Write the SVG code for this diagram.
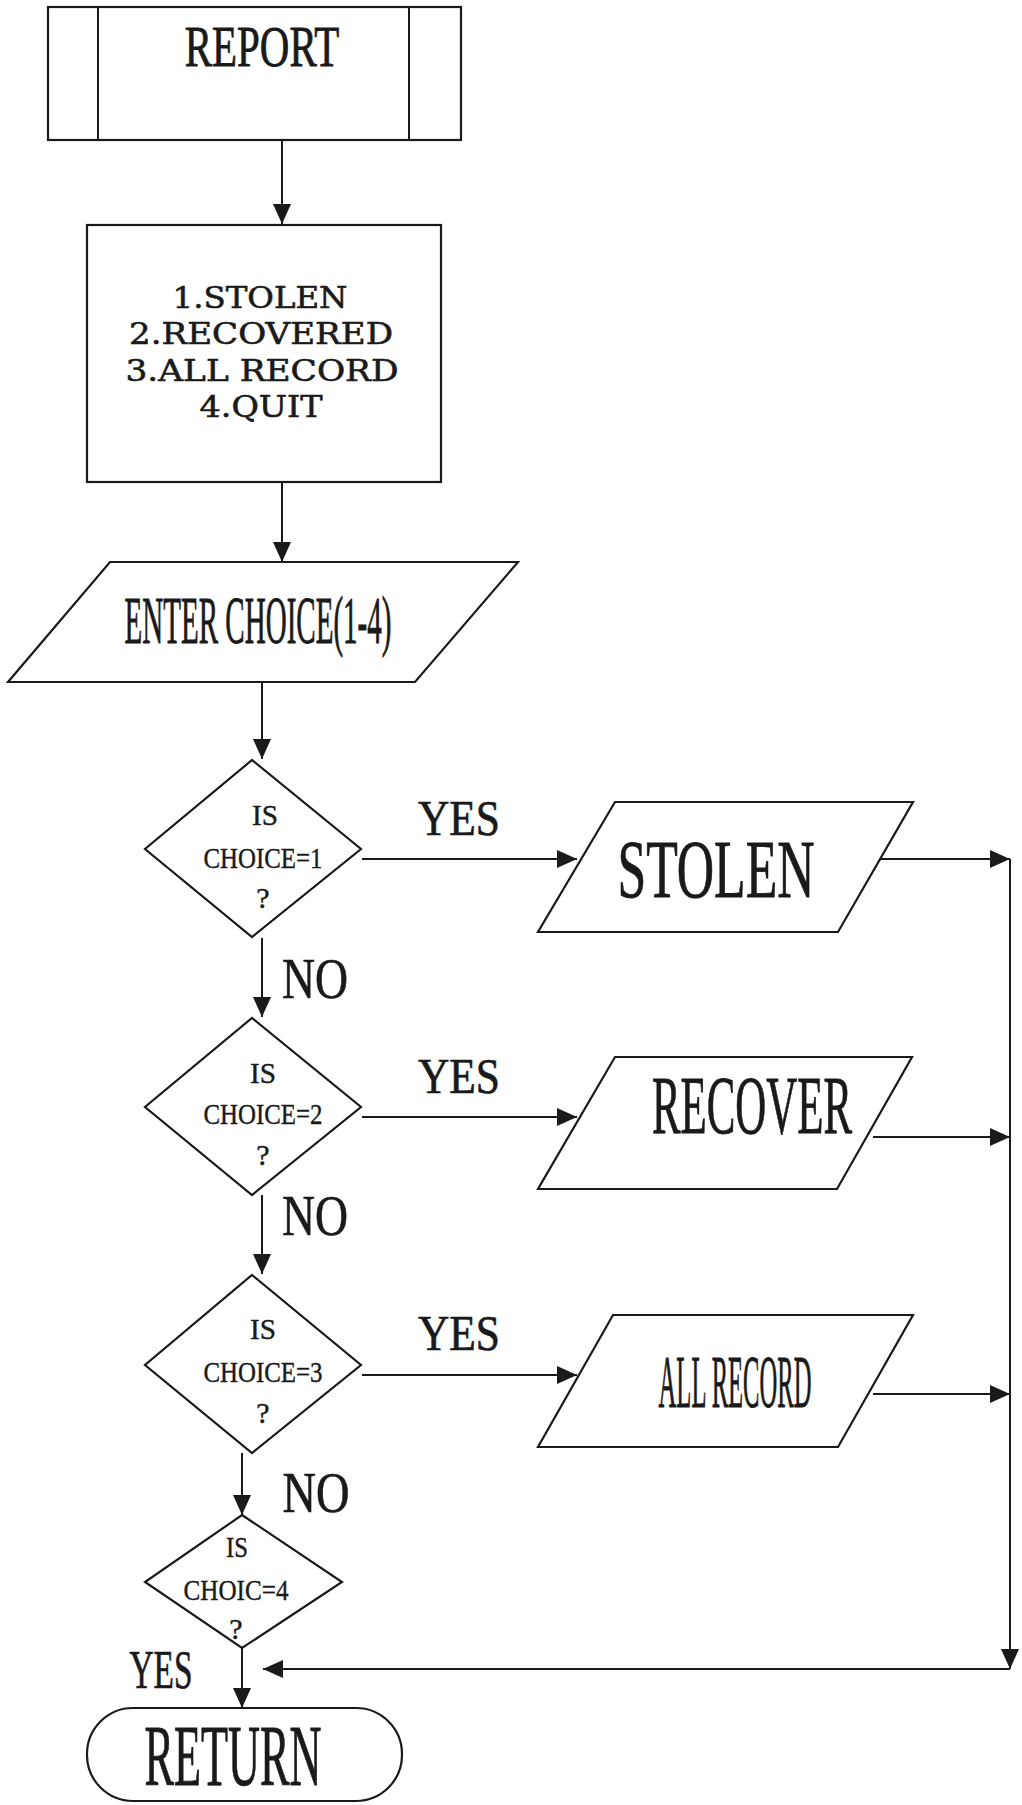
<svg xmlns="http://www.w3.org/2000/svg" width="1022" height="1805" viewBox="0 0 1022 1805">
  <defs>
    <marker id="arr" markerUnits="userSpaceOnUse" markerWidth="20" markerHeight="18" refX="20" refY="9" orient="auto">
      <path d="M0,0 L20,9 L0,18 z" fill="#1a1a1a"/>
    </marker>
    <style>
      .shape { fill: #ffffff; stroke: #1a1a1a; stroke-width: 2.2; }
      .conn { stroke: #1a1a1a; stroke-width: 2; fill: none; marker-end: url(#arr); }
      .line { stroke: #1a1a1a; stroke-width: 2; fill: none; }
      .t { font-family: "Liberation Serif", "Times New Roman", serif; fill: #1a1a1a; stroke: #1a1a1a; stroke-width: 0.7; text-anchor: middle; }
      .ns { vector-effect: non-scaling-stroke; }
      .m { font-family: "DejaVu Serif", "Liberation Serif", serif; fill: #1a1a1a; stroke: #1a1a1a; stroke-width: 0.6; text-anchor: middle; font-size: 30px; }
      .d { font-size: 30px; stroke-width: 0.4; }
      .lbl { font-size: 50px; }
    </style>
  </defs>
  <rect x="0" y="0" width="1022" height="1805" fill="#ffffff"/>

  <g id="connectors">
    <line class="conn" x1="282" y1="140" x2="282" y2="224"/>
    <line class="conn" x1="282" y1="482" x2="282" y2="562"/>
    <line class="conn" x1="262" y1="682" x2="262" y2="759"/>
    <line class="conn" x1="362" y1="859" x2="577" y2="859"/>
    <line class="conn" x1="873" y1="859" x2="1010" y2="859"/>
    <line class="conn" x1="262" y1="938" x2="262" y2="1017"/>
    <line class="conn" x1="362" y1="1117" x2="577" y2="1117"/>
    <line class="conn" x1="873" y1="1137" x2="1010" y2="1137"/>
    <line class="conn" x1="262" y1="1195" x2="262" y2="1274"/>
    <line class="conn" x1="362" y1="1375" x2="577" y2="1375"/>
    <line class="conn" x1="873" y1="1394" x2="1010" y2="1394"/>
    <line class="conn" x1="242" y1="1453" x2="242" y2="1515"/>
    <line class="conn" x1="1010" y1="859" x2="1010" y2="1669"/>
    <line class="conn" x1="1010" y1="1669" x2="263" y2="1669"/>
    <line class="conn" x1="242" y1="1648" x2="242" y2="1708"/>
  </g>

  <g id="report">
    <rect class="shape" x="48" y="7" width="413" height="133"/>
    <line class="line" x1="98" y1="7" x2="98" y2="140"/>
    <line class="line" x1="409" y1="7" x2="409" y2="140"/>
    <text class="t ns" transform="translate(262,66) scale(0.731,1)" font-size="56">REPORT</text>
  </g>

  <g id="menu">
    <rect class="shape" x="87" y="225" width="354" height="257"/>
    <text class="m" x="260" y="308" textLength="175" lengthAdjust="spacingAndGlyphs">1.STOLEN</text>
    <text class="m" x="261" y="344" textLength="264" lengthAdjust="spacingAndGlyphs">2.RECOVERED</text>
    <text class="m" x="262" y="381" textLength="273" lengthAdjust="spacingAndGlyphs">3.ALL RECORD</text>
    <text class="m" x="261" y="417" textLength="123" lengthAdjust="spacingAndGlyphs">4.QUIT</text>
  </g>

  <g id="enter-choice">
    <polygon class="shape" points="110,562 518,562 415,682 8,682"/>
    <text class="t ns" transform="translate(258,643) scale(0.427,1)" font-size="68">ENTER CHOICE(1-4)</text>
  </g>

  <g id="decision1">
    <polygon class="shape" points="252,760 361,849 252,937 145,849"/>
    <text class="t d" x="265" y="825" textLength="26" lengthAdjust="spacingAndGlyphs">IS</text>
    <text class="t d" x="263" y="868" textLength="119" lengthAdjust="spacingAndGlyphs">CHOICE=1</text>
    <text class="t d" x="263" y="908">?</text>
  </g>

  <g id="decision2">
    <polygon class="shape" points="252,1018 361,1107 252,1195 145,1107"/>
    <text class="t d" x="263" y="1083" textLength="26" lengthAdjust="spacingAndGlyphs">IS</text>
    <text class="t d" x="263" y="1124" textLength="119" lengthAdjust="spacingAndGlyphs">CHOICE=2</text>
    <text class="t d" x="263" y="1165">?</text>
  </g>

  <g id="decision3">
    <polygon class="shape" points="252,1275 361,1365 252,1453 145,1365"/>
    <text class="t d" x="263" y="1339" textLength="26" lengthAdjust="spacingAndGlyphs">IS</text>
    <text class="t d" x="263" y="1382" textLength="119" lengthAdjust="spacingAndGlyphs">CHOICE=3</text>
    <text class="t d" x="263" y="1423">?</text>
  </g>

  <g id="decision4">
    <polygon class="shape" points="242,1515 342,1582 242,1648 145,1582"/>
    <text class="t d" x="237" y="1557" textLength="22" lengthAdjust="spacingAndGlyphs">IS</text>
    <text class="t d" x="236" y="1600" textLength="105" lengthAdjust="spacingAndGlyphs">CHOIC=4</text>
    <text class="t d" x="236" y="1639">?</text>
  </g>

  <g id="stolen">
    <polygon class="shape" points="615,802 913,802 838,932 538,932"/>
    <text class="t ns" transform="translate(716,897) scale(0.623,1)" font-size="83">STOLEN</text>
  </g>

  <g id="recover">
    <polygon class="shape" points="615,1057 912,1057 837,1189 538,1189"/>
    <text class="t ns" transform="translate(752,1133) scale(0.517,1)" font-size="83">RECOVER</text>
  </g>

  <g id="all-record">
    <polygon class="shape" points="613,1315 913,1315 838,1447 538,1447"/>
    <text class="t ns" transform="translate(735,1407) scale(0.328,1)" font-size="75">ALL RECORD</text>
  </g>

  <g id="return">
    <rect class="shape" x="87" y="1708" width="315" height="93" rx="46" ry="46"/>
    <text class="t ns" transform="translate(233,1785) scale(0.515,1)" font-size="86">RETURN</text>
  </g>

  <g id="labels">
    <text class="t lbl" x="459" y="835" textLength="82" lengthAdjust="spacingAndGlyphs">YES</text>
    <text class="t lbl" x="459" y="1093" textLength="82" lengthAdjust="spacingAndGlyphs">YES</text>
    <text class="t lbl" x="459" y="1350" textLength="82" lengthAdjust="spacingAndGlyphs">YES</text>
    <text class="t" x="315" y="998" font-size="57" textLength="66" lengthAdjust="spacingAndGlyphs">NO</text>
    <text class="t" x="315" y="1235" font-size="57" textLength="66" lengthAdjust="spacingAndGlyphs">NO</text>
    <text class="t" x="316" y="1512" font-size="57" textLength="67" lengthAdjust="spacingAndGlyphs">NO</text>
    <text class="t" x="161" y="1688" font-size="54" textLength="63" lengthAdjust="spacingAndGlyphs">YES</text>
  </g>
</svg>
